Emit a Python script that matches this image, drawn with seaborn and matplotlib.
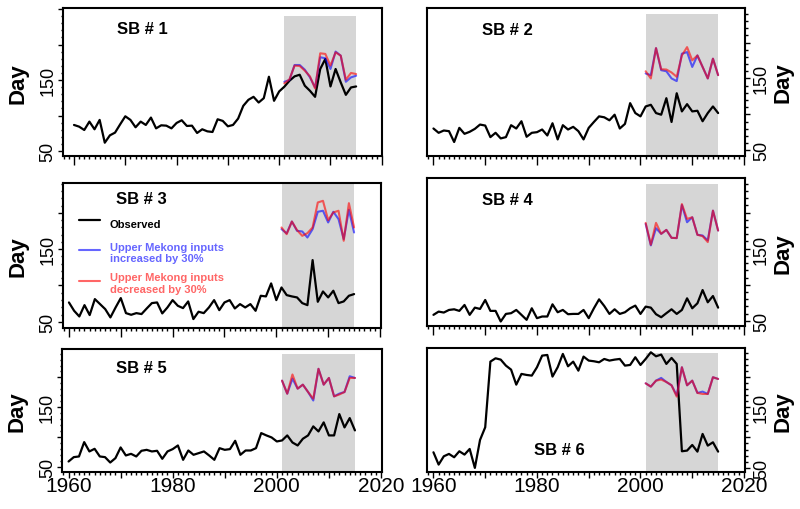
import matplotlib
matplotlib.use("Agg")
import matplotlib.pyplot as plt
from matplotlib.lines import Line2D
from matplotlib.ticker import MultipleLocator
import seaborn as sns

# observed years and scenario period
years = list(range(1960, 2016))
scenario_years = list(range(2001, 2016))

sb1_obs = [86.8, 84.4, 79.7, 91.5, 80.7, 93.9, 61.8, 72.2, 76.0, 87.7,
           99.0, 93.9, 83.5, 91.5, 86.8, 97.2, 82.0, 86.3, 85.8, 82.0,
           89.6, 93.4, 85.4, 85.8, 75.5, 80.7, 77.8, 76.9, 94.8, 92.5,
           84.9, 86.8, 95.8, 113.7, 122.2, 126.4, 118.4, 124.5, 154.7, 120.8,
           134.0, 140.6, 149.0, 155.2, 157.5, 142.0, 134.9, 126.4, 165.6, 179.7,
           141.0, 165.6, 146.7, 129.2, 139.6, 141.0]
sb1_up = [147.6, 150.0, 171.2, 171.2, 164.6, 153.8, 139.6, 182.1, 180.7, 165.6,
          190.1, 184.4, 147.6, 153.8, 156.1]
sb1_down = [145.3, 151.0, 170.3, 169.8, 163.2, 155.2, 138.2, 187.7, 186.8, 170.5,
            189.0, 184.4, 150.5, 160.0, 158.5]

sb2_obs = [80.3, 74.3, 77.5, 76.6, 61.5, 81.2, 72.9, 75.7, 79.8, 85.8,
           84.4, 68.3, 74.3, 66.5, 68.3, 84.9, 80.3, 90.4, 68.8, 74.3,
           75.2, 78.9, 70.6, 87.6, 65.1, 84.9, 78.9, 82.6, 76.6, 65.1,
           81.2, 89.4, 97.2, 95.9, 91.7, 99.5, 80.3, 86.7, 115.6, 101.8,
           97.2, 111.0, 113.3, 101.8, 99.5, 122.5, 89.4, 129.4, 104.1, 114.2,
           104.1, 105.0, 90.4, 101.8, 111.0, 101.8]
sb2_up = [156.9, 154.6, 192.2, 161.5, 160.0, 150.0, 146.3, 184.4, 186.7, 166.0,
          182.0, 166.0, 150.0, 177.5, 154.6]
sb2_down = [160.0, 150.0, 192.2, 162.8, 162.4, 158.3, 152.3, 182.0, 193.6, 175.2,
            182.0, 166.0, 150.0, 177.5, 154.6]

sb3_obs = [76.6, 65.1, 57.3, 72.9, 59.2, 81.2, 74.3, 67.4, 56.0, 69.7,
           82.6, 61.9, 59.6, 61.9, 60.6, 68.3, 75.7, 76.6, 61.5, 69.7,
           79.8, 72.0, 68.8, 78.0, 53.7, 63.8, 61.9, 69.7, 79.8, 66.0,
           76.6, 79.8, 68.3, 74.3, 69.7, 74.3, 65.1, 85.8, 84.9, 102.8,
           79.8, 97.2, 86.7, 84.9, 83.5, 75.7, 72.9, 134.9, 77.5, 91.7,
           83.5, 92.7, 75.7, 78.0, 85.8, 88.1]
sb3_up = [177.5, 171.6, 188.0, 175.2, 174.3, 166.0, 177.5, 201.4, 202.8, 186.7,
          201.4, 191.3, 163.8, 204.1, 172.9]
sb3_down = [179.8, 170.6, 188.0, 176.1, 168.3, 172.0, 179.8, 214.2, 216.5, 189.9,
            200.5, 202.8, 161.5, 213.3, 179.8]

sb4_obs = [58.3, 62.8, 61.5, 65.1, 66.0, 63.8, 72.0, 58.3, 68.3, 66.5,
           78.9, 63.8, 63.8, 49.1, 59.6, 60.6, 65.1, 58.3, 51.4, 67.4,
           53.7, 56.0, 56.0, 72.9, 61.9, 65.1, 59.2, 59.6, 59.6, 65.1,
           53.7, 67.4, 79.8, 70.6, 59.6, 66.0, 59.6, 61.9, 67.4, 71.1,
           59.6, 69.7, 68.3, 59.2, 55.0, 60.6, 66.0, 59.6, 65.1, 81.2,
           67.4, 74.3, 92.7, 75.7, 84.4, 68.3]
sb4_up = [184.4, 154.6, 178.4, 170.6, 176.1, 165.1, 164.7, 210.6, 186.7, 193.6,
          169.3, 168.3, 161.5, 202.8, 175.2]
sb4_down = [185.8, 155.5, 185.8, 170.6, 176.1, 165.1, 164.7, 211.9, 191.3, 193.6,
            169.3, 167.4, 159.2, 202.8, 175.2]

sb5_obs = [59.5, 66.8, 67.9, 91.9, 76.3, 80.7, 67.9, 66.8, 57.8, 65.1,
           83.0, 69.6, 72.3, 67.9, 77.4, 79.0, 76.3, 77.4, 64.0, 76.3,
           80.2, 86.3, 62.3, 77.9, 70.7, 73.5, 76.3, 69.6, 62.3, 81.8,
           79.0, 80.2, 94.1, 70.7, 77.9, 77.9, 81.8, 107.0, 103.1, 99.7,
           93.0, 94.7, 103.1, 91.3, 86.3, 97.5, 103.1, 118.2, 109.8, 124.9,
           103.1, 103.1, 138.8, 116.5, 132.1, 111.5]
sb5_up = [194.7, 172.9, 198.0, 181.3, 188.0, 175.7, 161.5, 214.5, 188.0, 199.2,
          168.4, 173.0, 175.7, 202.0, 199.2]
sb5_down = [194.7, 172.9, 205.0, 181.3, 188.0, 175.7, 164.5, 214.5, 188.0, 199.2,
            168.4, 171.5, 175.7, 199.2, 199.2]

sb6_obs = [75.4, 55.1, 68.8, 72.7, 67.2, 77.1, 71.6, 80.9, 49.6, 95.8,
           116.7, 225.1, 230.6, 228.4, 218.5, 211.9, 187.1, 204.8, 203.1, 202.0,
           215.8, 235.0, 236.1, 200.4, 215.8, 237.8, 217.4, 225.1, 210.2, 233.4,
           226.8, 225.7, 224.0, 229.5, 226.8, 228.4, 229.5, 218.5, 219.6, 232.3,
           219.6, 229.5, 240.5, 233.9, 236.7, 221.3, 231.2, 221.3, 77.1, 78.2,
           87.5, 76.5, 105.7, 86.4, 91.9, 76.5]
sb6_up = [189.3, 183.8, 193.7, 198.2, 191.5, 186.0, 169.4, 215.8, 186.0, 193.7,
          173.4, 175.6, 171.7, 199.3, 196.5]
sb6_down = [189.3, 183.8, 193.7, 195.4, 191.5, 186.0, 167.3, 215.8, 186.0, 193.7,
            173.4, 171.7, 171.7, 199.3, 196.5]

panel_names = ["SB # 1", "SB # 2", "SB # 3", "SB # 4", "SB # 5", "SB # 6"]
legend_labels = ["Observed",
                 "Upper Mekong inputs\nincreased by 30%",
                 "Upper Mekong inputs\ndecreased by 30%"]
year_ticks = [1960, 1970, 1980, 1990, 2000, 2010, 2020]
year_labels = ["1960", "", "1980", "", "2000", "", "2020"]
day_ticks = [50, 100, 150, 200, 250]
day_labels = ["50", "", "150", "", ""]
shade_top = 240

up_color = (0, 0, 1, 0.6)
down_color = (1, 0, 0, 0.6)

sns.set_theme(style="ticks")
plt.rcParams["font.family"] = ["Liberation Sans", "DejaVu Sans"]

fig = plt.figure(figsize=(8, 5.1), dpi=100)

boxes = [[0.0784, 0.6912, 0.3988, 0.2912],
         [0.5334, 0.6927, 0.3979, 0.2890],
         [0.0784, 0.3543, 0.3979, 0.2849],
         [0.5334, 0.3582, 0.3979, 0.2902],
         [0.0779, 0.0731, 0.3996, 0.2406],
         [0.5334, 0.0720, 0.3979, 0.2437]]
xlims = [(1957.8, 2019.5), (1958.7, 2020.2), (1958.8, 2020.2),
         (1958.7, 2020.2), (1958.8, 2020.2), (1958.7, 2020.2)]
ylims = [(42.4, 251.5), (42.4, 247.6), (41.0, 241.0),
         (42.4, 247.6), (42.4, 247.6), (42.4, 247.6)]
name_pos = [(1973.3, 221.9), (1974.2, 218.8), (1974.0, 219.0),
            (1974.2, 218.9), (1974.0, 217.0), (1984.4, 80.8)]

series = [(sb1_obs, sb1_up, sb1_down), (sb2_obs, sb2_up, sb2_down),
          (sb3_obs, sb3_up, sb3_down), (sb4_obs, sb4_up, sb4_down),
          (sb5_obs, sb5_up, sb5_down), (sb6_obs, sb6_up, sb6_down)]

for i, (obs, up, down) in enumerate(series):
    ax = fig.add_axes(boxes[i])
    right = i % 2 == 1
    bottom_row = i >= 4

    ax.fill_between([scenario_years[0], scenario_years[-1]], ylims[i][0] - 5, shade_top,
                    color="#D6D6D6", lw=0, zorder=0)
    sns.lineplot(x=years, y=obs, ax=ax, color="black", lw=1.6, zorder=3)
    sns.lineplot(x=scenario_years, y=up, ax=ax, color=up_color, lw=1.5, zorder=4)
    sns.lineplot(x=scenario_years, y=down, ax=ax, color=down_color, lw=1.5, zorder=5)

    ax.set_xlim(xlims[i])
    ax.set_ylim(ylims[i])
    ax.text(name_pos[i][0], name_pos[i][1], panel_names[i], ha="center", va="center",
            fontsize=12, fontweight="bold", color="black")

    for s in ax.spines.values():
        s.set_linewidth(1.5)
        s.set_color("black")

    # x axis
    ax.set_xticks(year_ticks, labels=year_labels if bottom_row else [""] * len(year_ticks))
    ax.xaxis.set_minor_locator(MultipleLocator(1))
    xmaj = 4.0 if bottom_row else 6.5
    xmin = 2.0 if bottom_row else 2.4
    ax.tick_params(axis="x", which="major", direction="out", length=xmaj, width=1,
                   color="black", labelsize=15, pad=-1.2, labelcolor="black")
    ax.tick_params(axis="x", which="minor", direction="out", length=xmin, width=1,
                   color="black")

    # y axis
    ax.set_yticks(day_ticks, labels=day_labels)
    ax.yaxis.set_minor_locator(MultipleLocator(10))
    ax.set_ylim(ylims[i])
    ax.tick_params(axis="y", which="major", direction="out", length=3.6, width=1,
                   color="black", labelsize=13, labelcolor="black")
    ax.tick_params(axis="y", which="minor", direction="out", length=1.8, width=1,
                   color="black")
    if right:
        ax.yaxis.tick_right()
        ax.yaxis.set_label_position("right")
        ax.tick_params(axis="y", which="major", pad=2.0)
        for lab in ax.get_yticklabels():
            lab.set_rotation(90)
            lab.set_va("center")
        ax.set_ylabel("Day", fontsize=16, fontweight="bold", color="black")
        ax.yaxis.set_label_coords(1.0855, 0.5)
    else:
        ax.tick_params(axis="y", which="major", pad=1.0)
        for lab in ax.get_yticklabels():
            lab.set_rotation(90)
            lab.set_va("center")
        ax.set_ylabel("Day", fontsize=16, fontweight="bold", color="black")
        ax.yaxis.set_label_coords(-0.108, 0.5)
    ax.set_xlabel("")

    if i == 2:
        handles = [Line2D([0], [0], color="black", lw=1.6),
                   Line2D([0], [0], color=up_color, lw=1.5),
                   Line2D([0], [0], color=down_color, lw=1.5)]
        leg = ax.legend(handles, legend_labels, loc="upper left",
                        bbox_to_anchor=(0.0512, 0.786), frameon=False,
                        borderpad=0, borderaxespad=0, handlelength=1.9,
                        handletextpad=0.85, handleheight=2.2, labelspacing=0.8,
                        labelcolor=["black", up_color, down_color],
                        prop={"size": 8, "weight": "bold"})

plt.savefig("out.png", dpi=100)
